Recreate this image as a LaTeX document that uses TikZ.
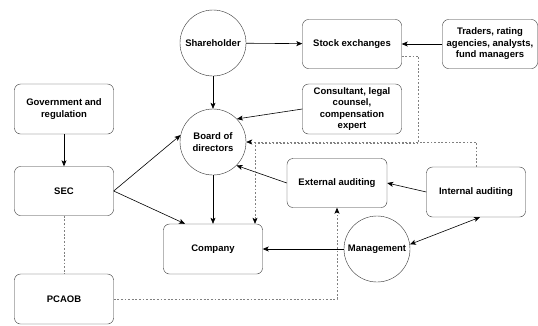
\documentclass[tikz,border=0pt]{standalone}
\usepackage{fontspec}
\setmainfont{Liberation Sans}
\usetikzlibrary{arrows.meta, positioning, calc}

\begin{document}
\begin{tikzpicture}[x=1pt, y=-1pt,
  box/.style={draw=black!80, rounded corners=6pt, minimum width=99pt, minimum height=49pt, inner sep=2pt, align=center, font=\fontsize{9.5}{11.5}\selectfont\bfseries},
  circ/.style={draw=black!80, circle, minimum size=66pt, inner sep=0pt, align=center, font=\fontsize{9.5}{11.5}\selectfont\bfseries},
  arr/.style={-{Stealth[length=6pt, width=5pt, inset=1.5pt]}, line width=0.6pt},
  dots/.style={-{Stealth[length=6pt, width=5pt, inset=1.5pt, color=black]}, line width=0.6pt, gray, dash pattern=on 1.8pt off 1.8pt}
]
\useasboundingbox (0,0) rectangle (538,325);

\node[circ] (shareholder) at (213,43) {Shareholder};
\node[box] (stock) at (352,44) {Stock exchanges};
\node[box, minimum width=95pt] (traders) at (490,44) {Traders, rating\\agencies, analysts,\\fund managers};
\node[box, minimum height=50pt] (consultant) at (352,109) {Consultant, legal\\counsel,\\compensation\\expert};
\node[box, minimum height=50pt] (government) at (64,109) {Government and\\regulation};
\node[circ] (board) at (213,142) {Board of\\directors};
\node[box] (sec) at (64,191) {SEC};
\node[box, minimum height=50pt] (company) at (213,249) {Company};
\node[box, minimum height=50pt] (pcaob) at (64,299) {PCAOB};
\node[box, minimum width=100pt] (external) at (337,183) {External auditing};
\node[box, minimum height=50pt] (internal) at (476,192) {Internal auditing};
\node[circ] (management) at (377,249) {Management};

\coordinate (split) at (255,143);

% solid links
\draw[arr] (shareholder) -- (stock);
\draw[arr] (traders) -- (stock);
\draw[arr] (shareholder) -- (board);
\draw[arr] (consultant.west) -- (board.44);
\draw[arr] (government) -- (sec);
\draw[arr] (sec.east) -- (board.168);
\draw[arr] (sec.east) -- ([xshift=-28pt]company.north);
\draw[arr] (board) -- (company);
\draw[arr] (external.west) -- (board.-45);
\draw[arr] (internal.west) -- (external.east);
\draw[arr, {Stealth[length=6pt, width=5pt, inset=1.5pt]}-{Stealth[length=6pt, width=5pt, inset=1.5pt]}] (management.8) -- ([xshift=4pt]internal.south);
\draw[arr] (management) -- (company);

% dotted links
\draw[dots] ([yshift=-12pt]stock.east) -- ++(17,0) |- (split) -- (split |- company.north);
\draw[dots] (internal.north) |- (board.east);
\draw[dots, -] (sec) -- (pcaob);
\draw[dots] (pcaob.east) -| (external.south);

\end{tikzpicture}
\end{document}
